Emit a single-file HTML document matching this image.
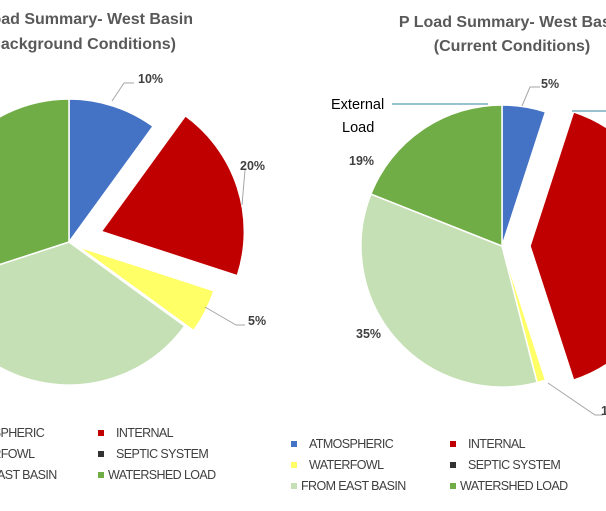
<!DOCTYPE html>
<html><head><meta charset="utf-8"><style>
body{margin:0;background:#fff}
svg{display:block;font-family:"Liberation Sans",sans-serif}
</style></head><body>
<svg id="chart" width="606" height="511" viewBox="0 0 606 511">
<g font-weight="bold" fill="#595959" font-size="16">
<text x="193" y="24" text-anchor="end">P Load Summary- West Basin</text>
<text x="176" y="49" text-anchor="end">(Background Conditions)</text>
</g>
<g font-weight="bold" fill="#595959" font-size="16" text-anchor="middle">
<text x="512" y="27">P Load Summary- West Basin</text>
<text x="512" y="51">(Current Conditions)</text>
</g>
<g id="left"></g>
<g id="right"></g>
<g fill="none" stroke="#a6a6a6" stroke-width="1">
<polyline points="112,101 124,83 134,83"/>
<polyline points="242,205 245,170"/>
<polyline points="205,307 236,325 245,325"/>
<polyline points="522,106 530,87 540,87"/>
<polyline points="548,383 595,415 603,415"/>
</g>
<g stroke="#31849b" stroke-width="1">
<line x1="392" y1="104" x2="488" y2="104"/>
<line x1="572" y1="111" x2="606" y2="111"/>
</g>
<g font-weight="bold" fill="#404040" font-size="12.5">
<text x="138" y="83">10%</text>
<text x="240" y="170">20%</text>
<text x="248" y="325">5%</text>
<text x="541" y="88">5%</text>
<text x="349" y="165">19%</text>
<text x="356" y="338">35%</text>
<text x="601" y="415">1%</text>
</g>
<g fill="#000" font-size="14.5">
<text x="331" y="109">External</text>
<text x="342" y="132">Load</text>
</g>
<g id="legends" font-size="12.5" fill="#404040" letter-spacing="-0.6"></g>
<script>
const categories=["ATMOSPHERIC","INTERNAL","WATERFOWL","SEPTIC SYSTEM","FROM EAST BASIN","WATERSHED LOAD"];
const colors=["#4472c4","#c00000","#ffff66","#333333","#c5e0b4","#70ad47"];
const backgroundValues=[10,20,5,0,35,30];
const currentValues=[5,40,1,0,35,19];
const backgroundExplode=[0,34,10,0,0,0];
const currentExplode=[0,28,0,0,0,0];
const NS="http://www.w3.org/2000/svg";
function drawPie(gid,cx,cy,r,vals,expl,prefix){
  const g=document.getElementById(gid);
  const tot=vals.reduce((a,b)=>a+b,0);
  let a0=0;
  vals.forEach((v,i)=>{
    if(v<=0)return;
    const a1=a0+v/tot*2*Math.PI, m=(a0+a1)/2;
    const ox=cx+expl[i]*Math.sin(m), oy=cy-expl[i]*Math.cos(m);
    const x0=ox+r*Math.sin(a0),y0=oy-r*Math.cos(a0),x1=ox+r*Math.sin(a1),y1=oy-r*Math.cos(a1);
    const p=document.createElementNS(NS,"path");
    p.setAttribute("d",`M${ox},${oy}L${x0},${y0}A${r},${r} 0 ${a1-a0>Math.PI?1:0} 1 ${x1},${y1}Z`);
    p.setAttribute("fill",colors[i]);p.setAttribute("stroke","#fff");p.setAttribute("stroke-width","1.5");
    
    
    g.appendChild(p);
    a0=a1;
  });
}
drawPie("left",69,242,143,backgroundValues,backgroundExplode,"background");
drawPie("right",502,246,141,currentValues,currentExplode,"current");
const lg=document.getElementById("legends");
function legend(x1,x2,y0,dy,tx){
  categories.forEach((c,i)=>{
    const col=i%2, row=Math.floor(i/2);
    const x=col?x2:x1, y=y0+row*dy;
    const r=document.createElementNS(NS,"rect");
    r.setAttribute("x",x);r.setAttribute("y",y-7);r.setAttribute("width",6);r.setAttribute("height",6);r.setAttribute("fill",colors[i]);
    
    
    lg.appendChild(r);
    const t=document.createElementNS(NS,"text");
    t.setAttribute("x",x+(i==4||i==5?10:tx));t.setAttribute("y",y);t.textContent=c;
    
    
    lg.appendChild(t);
  });
}
legend(-58,98,437,21,18);
legend(291,450,448,21,18);
</script>
</svg>
</body></html>
